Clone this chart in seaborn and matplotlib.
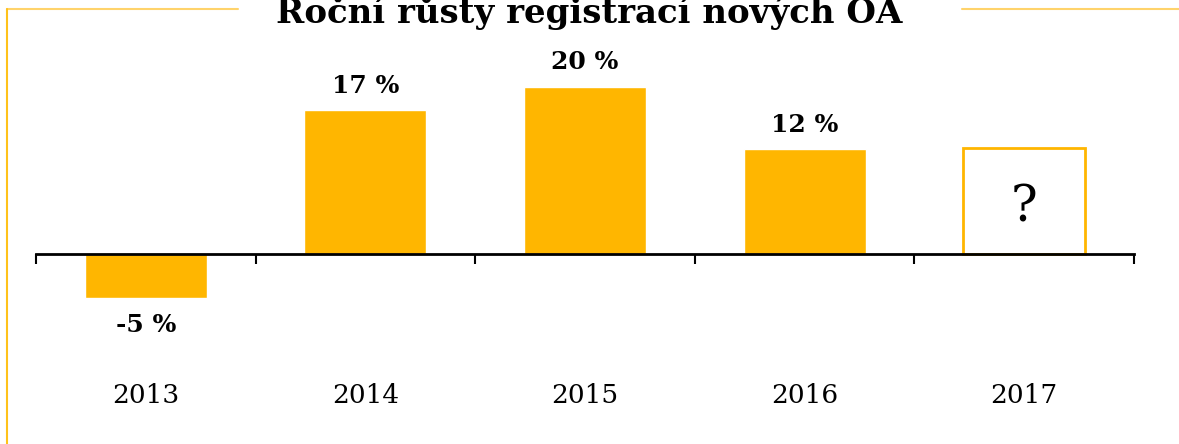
import seaborn as sns
import matplotlib.pyplot as plt
from matplotlib.lines import Line2D

sns.set_style("white")
plt.rcParams["font.family"] = ["DejaVu Serif", "DejaVu Sans"]
plt.rcParams["text.color"] = "black"
plt.rcParams["xtick.color"] = "black"

years = ["2013", "2014", "2015", "2016", "2017"]
growth = [-5.2, 17.1, 19.9, 12.5, 12.6]
labels = ["-5 %", "17 %", "20 %", "12 %", "?"]

gold = "#FFB600"

fig = plt.figure(figsize=(11.79, 4.44), dpi=100)
ax = fig.add_axes([36 / 1179, 0, 1098 / 1179, 1])

sns.barplot(x=years, y=growth, color=gold, width=0.556, saturation=1, ax=ax)

# last year is unknown -> outline only
last = ax.patches[-1]
last.set_facecolor("white")
last.set_edgecolor(gold)
last.set_linewidth(2)

ax.set_xlim(-0.5, 4.5)
ax.set_ylim(-190 / 8.4, 254 / 8.4)

for sp in ["top", "right", "left"]:
    ax.spines[sp].set_visible(False)
ax.spines["bottom"].set_position(("data", 0))
ax.spines["bottom"].set_linewidth(2)
ax.spines["bottom"].set_color("black")
ax.set_yticks([])

ax.set_xticks([i - 0.5 for i in range(6)], minor=True)
ax.tick_params(axis="x", which="minor", bottom=True, direction="out",
               length=7.5, width=1.5, color="black")
ax.tick_params(axis="x", which="major", length=0, pad=93, labelsize=19,
               labelcolor="black")

for i, (v, t) in enumerate(zip(growth, labels)):
    if t == "?":
        ax.annotate(t, (i, v / 2), xytext=(0, -5), textcoords="offset points",
                    ha="center", va="center", fontsize=36)
    elif v >= 0:
        ax.annotate(t, (i, v), xytext=(0, 9), textcoords="offset points",
                    ha="center", va="bottom", fontsize=18, fontweight="bold")
    else:
        ax.annotate(t, (i, v), xytext=(0, -11), textcoords="offset points",
                    ha="center", va="top", fontsize=18, fontweight="bold")

fig.text(0.5, 1 - 23 / 444, "Roční růsty registrací nových OA", ha="center",
         va="baseline", fontsize=24.5, fontweight="bold")

# frame around the slide
fy = 1 - 9 / 444
fig.add_artist(Line2D([7 / 1179, 238 / 1179], [fy, fy], color="#FFD36B", lw=1.5))
fig.add_artist(Line2D([962 / 1179, 1], [fy, fy], color="#FFD36B", lw=1.5))
fig.add_artist(Line2D([7 / 1179, 7 / 1179], [0, fy], color="#FFC21A", lw=1.5))

fig.savefig("out.png", dpi=100)
